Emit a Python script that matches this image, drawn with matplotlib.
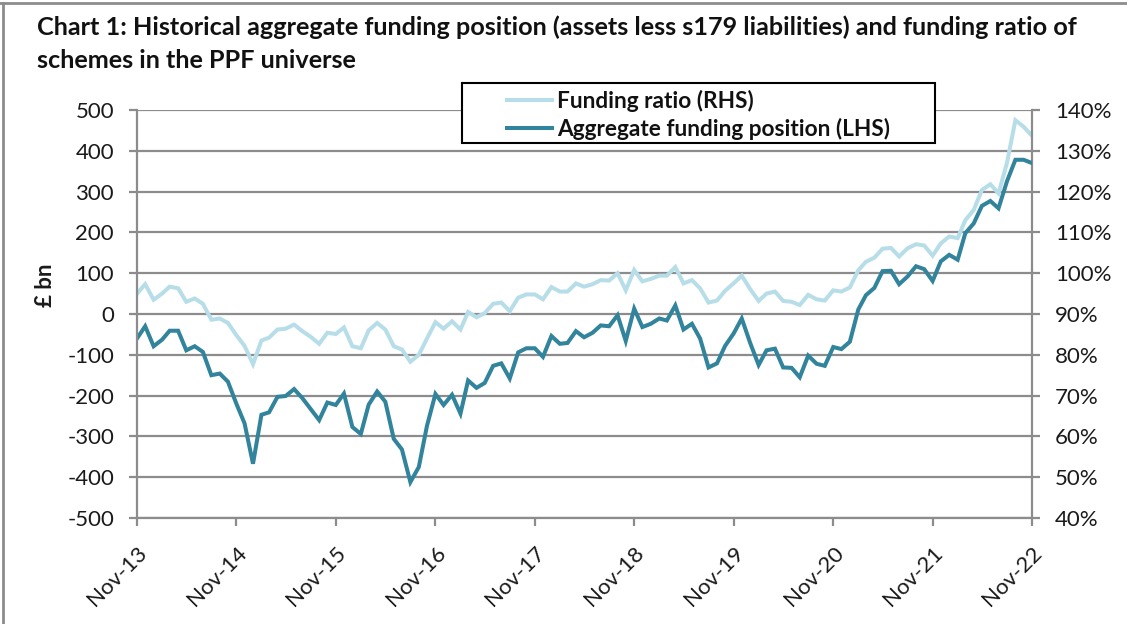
import matplotlib
matplotlib.use("Agg")
import matplotlib.pyplot as plt
from matplotlib.lines import Line2D
from matplotlib.patches import Rectangle
import pandas as pd

# ---------------- data ----------------
dates = pd.date_range("2013-11-01", periods=109, freq="MS")

funding_position = [
    -60, -30, -79, -63, -41, -41, -89, -79, -93, -150,
    -146, -166, -220, -268, -367, -247, -241, -203, -201, -184,
    -206, -233, -260, -217, -223, -195, -277, -294, -222, -190,
    -215, -306, -332, -412, -375, -274, -196, -223, -198, -244,
    -163, -181, -169, -127, -121, -158, -94, -84, -84, -105,
    -54, -73, -71, -42, -57, -46, -28, -30, -3, -66,
    13, -32, -24, -11, -16, 21, -38, -24, -60, -131,
    -121, -78, -48, -11, -71, -125, -89, -85, -131, -132,
    -155, -102, -122, -127, -81, -86, -68, 11, 46, 64,
    105, 106, 73, 92, 117, 110, 81, 129, 145, 133,
    198, 222, 265, 277, 259, 325, 378, 378, 370,
]

funding_ratio = [
    95.0, 97.3, 93.5, 95.0, 96.7, 96.3, 93.0, 93.8, 92.5, 88.6,
    88.9, 87.8, 84.8, 82.2, 77.7, 83.5, 84.2, 86.2, 86.4, 87.4,
    85.8, 84.4, 82.7, 85.4, 85.1, 86.7, 82.1, 81.6, 86.0, 87.8,
    86.2, 82.1, 81.3, 78.3, 80.0, 84.0, 88.0, 86.4, 88.2, 86.2,
    90.5, 89.2, 90.2, 92.5, 92.8, 90.7, 94.0, 94.8, 94.8, 93.6,
    96.6, 95.5, 95.5, 97.5, 96.7, 97.3, 98.3, 98.2, 100.0, 95.8,
    100.8, 98.0, 98.6, 99.4, 99.4, 101.5, 97.5, 98.3, 96.3, 92.8,
    93.3, 95.7, 97.5, 99.4, 96.1, 93.2, 95.0, 95.5, 93.2, 93.0,
    92.2, 94.7, 93.6, 93.3, 95.8, 95.5, 96.5, 100.7, 102.8, 103.8,
    106.0, 106.2, 104.1, 106.1, 107.1, 106.8, 104.3, 107.3, 109.0, 108.6,
    113.0, 115.5, 120.4, 121.8, 119.6, 127.0, 137.5, 135.9, 133.7,
]

left_ticks = [500, 400, 300, 200, 100, 0, -100, -200, -300, -400, -500]
right_ticks = [140, 130, 120, 110, 100, 90, 80, 70, 60, 50, 40]
x_tick_labels = ["Nov-13", "Nov-14", "Nov-15", "Nov-16", "Nov-17",
                 "Nov-18", "Nov-19", "Nov-20", "Nov-21", "Nov-22"]

title_line1 = "Chart 1: Historical aggregate funding position (assets less s179 liabilities) and funding ratio of"
title_line2 = "schemes in the PPF universe"

# ---------------- style ----------------
plt.rcParams["font.family"] = ["Lato", "DejaVu Sans"]
W, H = 1127, 624
LIGHT = "#B7DEE8"
DARK = "#31849B"
GRID = "#8C8C8C"
TXT = "#1a1a1a"

fig = plt.figure(figsize=(W / 100, H / 100), dpi=100)

def fx(px):
    return px / W

def fy(py):
    return 1 - py / H

L, R, T, B = 137, 1032, 110, 518
ax2 = fig.add_axes([fx(L), fy(B), fx(R - L), (B - T) / H])
ax1 = ax2.twinx()
ax2.yaxis.tick_right()
ax1.yaxis.tick_left()
ax2.set_zorder(1)
ax1.set_zorder(2)
ax1.patch.set_visible(False)

ax2.plot(dates, funding_ratio, color=LIGHT, lw=2.9, solid_joinstyle="miter")
ax1.plot(dates, funding_position, color=DARK, lw=2.9, solid_joinstyle="miter")

ax1.set_ylim(-500, 500)
ax2.set_ylim(40, 140)
ax1.set_yticks(left_ticks)
ax1.set_yticklabels([str(v) for v in left_ticks])
ax2.set_yticks(right_ticks)
ax2.set_yticklabels([f"{v}%" for v in right_ticks])

xt = pd.date_range("2013-11-01", periods=len(x_tick_labels), freq="12MS")
ax2.set_xlim(dates[0], dates[-1])
ax2.set_xticks(xt)
ax2.set_xticklabels(x_tick_labels, rotation=45, ha="right", va="top",
                    rotation_mode="anchor", fontsize=16, color=TXT)
ax1.set_xlim(dates[0], dates[-1])

ax2.grid(axis="y", color=GRID, lw=1.6)
ax2.set_axisbelow(True)
ax2.grid(axis="x", visible=False)

for a in (ax1, ax2):
    for s in a.spines.values():
        s.set_visible(False)
for a, side in ((ax1, "left"), (ax2, "right"), (ax2, "bottom")):
    a.spines[side].set_visible(True)
    a.spines[side].set_color(GRID)
    a.spines[side].set_linewidth(1.6)

ax1.tick_params(axis="y", length=5.5, width=1.6, color=GRID, labelsize=16,
                labelcolor=TXT, pad=11)
ax2.tick_params(axis="y", length=5.5, width=1.6, color=GRID, labelsize=16,
                labelcolor=TXT, pad=11)
ax2.tick_params(axis="x", length=5.5, width=1.6, color=GRID, pad=12)
ax1.tick_params(axis="x", bottom=False, labelbottom=False)

fig.text(fx(46), fy(285), "£ bn", rotation=90, ha="center", va="center",
         fontsize=16, fontweight="bold", color=TXT)

# title
fig.text(fx(37), fy(27), title_line1, ha="left", va="center",
         fontsize=18.2, fontweight="bold", color="#111111")
fig.text(fx(37), fy(60), title_line2, ha="left", va="center",
         fontsize=18.2, fontweight="bold", color="#111111")

# legend box
fig.patches.append(Rectangle((fx(462), fy(143)), fx(935 - 462), (143 - 83) / H,
                             transform=fig.transFigure, facecolor="white",
                             edgecolor="black", lw=1.5, zorder=10))
handles = [Line2D([], [], color=LIGHT, lw=2.9),
           Line2D([], [], color=DARK, lw=2.9)]
leg = fig.legend(handles, ["Funding ratio (RHS)", "Aggregate funding position (LHS)"],
                 loc="upper left", bbox_to_anchor=(fx(489), fy(72)),
                 frameon=False, fontsize=16.3, handlelength=2.0,
                 handletextpad=0.2, labelspacing=0.25, borderpad=0.3)
for t in leg.get_texts():
    t.set_fontweight("bold")
    t.set_color("#111111")
leg.set_zorder(11)

# outer frame (top + left)
fig.add_artist(Line2D([0, 1], [fy(3), fy(3)], transform=fig.transFigure,
                      color="#8C8C8C", lw=2))
fig.add_artist(Line2D([fx(3), fx(3)], [0, fy(3)], transform=fig.transFigure,
                      color="#8C8C8C", lw=2))

fig.savefig("out.png", dpi=100)
